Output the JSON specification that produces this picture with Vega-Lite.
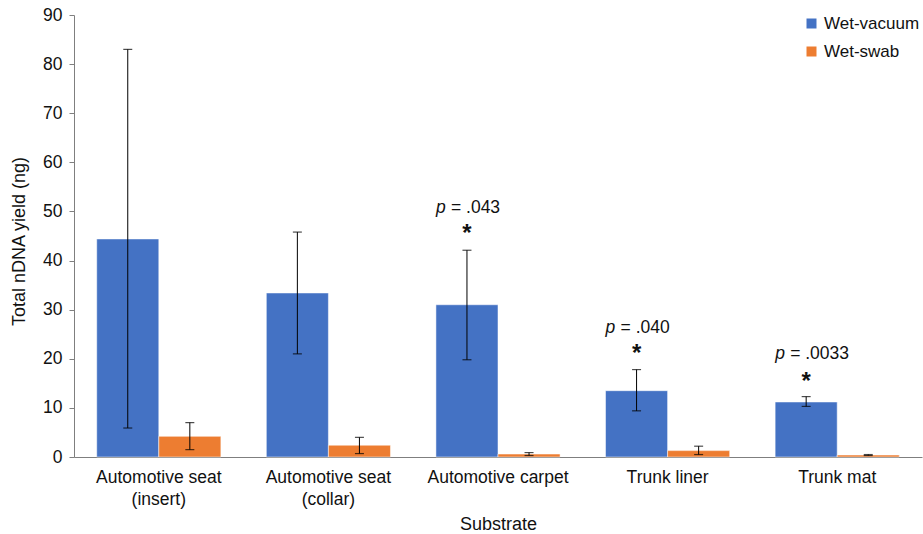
{
  "$schema": "https://vega.github.io/schema/vega-lite/v6.json",
  "width": 848,
  "height": 442,
  "autosize": {"type": "none"},
  "padding": {"left": 74, "top": 15, "right": 1, "bottom": 77},
  "background": "white",
  "config": {
    "view": {"stroke": null},
    "font": "Liberation Sans",
    "axis": {"labelFont": "Liberation Sans", "titleFont": "Liberation Sans", "labelColor": "#111", "titleColor": "#111", "titleFontWeight": "normal", "domainColor": "#7f7f7f", "tickColor": "#7f7f7f", "grid": false}
  },
  "datasets": {
    "bars": [
      {"substrate": "Automotive seat|(insert)", "method": "Wet-vacuum", "mean": 44.4, "lo": 5.9, "hi": 83.0},
      {"substrate": "Automotive seat|(insert)", "method": "Wet-swab", "mean": 4.2, "lo": 1.5, "hi": 7.0},
      {"substrate": "Automotive seat|(collar)", "method": "Wet-vacuum", "mean": 33.4, "lo": 21.0, "hi": 45.8},
      {"substrate": "Automotive seat|(collar)", "method": "Wet-swab", "mean": 2.4, "lo": 0.7, "hi": 4.0},
      {"substrate": "Automotive carpet", "method": "Wet-vacuum", "mean": 31.0, "lo": 19.8, "hi": 42.1},
      {"substrate": "Automotive carpet", "method": "Wet-swab", "mean": 0.6, "lo": 0.3, "hi": 0.9},
      {"substrate": "Trunk liner", "method": "Wet-vacuum", "mean": 13.5, "lo": 9.4, "hi": 17.8},
      {"substrate": "Trunk liner", "method": "Wet-swab", "mean": 1.3, "lo": 0.5, "hi": 2.2},
      {"substrate": "Trunk mat", "method": "Wet-vacuum", "mean": 11.2, "lo": 10.3, "hi": 12.3},
      {"substrate": "Trunk mat", "method": "Wet-swab", "mean": 0.4, "lo": 0.3, "hi": 0.5}
    ],
    "notes": [
      {"substrate": "Automotive carpet", "method": "Wet-vacuum", "p": "p", "rest": "= .043", "py": 50.6, "stary": 46.6},
      {"substrate": "Trunk liner", "method": "Wet-vacuum", "p": "p", "rest": "= .040", "py": 26.2, "stary": 22.2},
      {"substrate": "Trunk mat", "method": "Wet-vacuum", "p": "p", "rest": "= .0033", "py": 20.9, "stary": 16.5}
    ]
  },
  "encoding": {
    "x": {
      "field": "substrate", "type": "nominal",
      "sort": ["Automotive seat|(insert)", "Automotive seat|(collar)", "Automotive carpet", "Trunk liner", "Trunk mat"],
      "scale": {"paddingInner": 0.268, "paddingOuter": 0.134},
      "axis": {"title": "Substrate", "labelAngle": 0, "labelFontSize": 17.5, "titleFontSize": 18, "ticks": false, "labelPadding": 11, "labelExpr": "split(datum.label, '|')", "labelLineHeight": 22, "titlePadding": 8, "labelBaseline": "top"}
    },
    "xOffset": {"field": "method", "type": "nominal", "sort": ["Wet-vacuum", "Wet-swab"], "scale": {"domain": ["Wet-vacuum", "Wet-swab"], "paddingInner": 0, "paddingOuter": 0}}
  },
  "layer": [
    {
      "data": {"name": "bars"},
      "mark": {"type": "bar", "stroke": "#ffffff", "strokeOpacity": 0.5, "strokeWidth": 1},
      "encoding": {
        "y": {"field": "mean", "type": "quantitative",
          "scale": {"domain": [0, 90], "nice": false},
          "axis": {"title": "Total nDNA yield (ng)", "values": [0,5,10,15,20,25,30,35,40,45,50,55,60,65,70,75,80,85,90], "labelExpr": "datum.value % 10 === 0 ? datum.label : ''", "labelFontSize": 17.5, "titleFontSize": 18, "tickSize": 5, "labelPadding": 7, "titlePadding": 14, "titleY": 226}},
        "color": {"field": "method", "type": "nominal", "sort": ["Wet-vacuum", "Wet-swab"],
          "scale": {"domain": ["Wet-vacuum", "Wet-swab"], "range": ["#4472C4", "#ED7D31"]},
          "legend": {"title": null, "orient": "none", "legendX": 729, "legendY": 0, "symbolType": "square", "symbolSize": 100, "symbolStrokeWidth": 0, "labelFontSize": 17, "labelColor": "#111", "rowPadding": 10, "labelOffset": 4}}
      }
    },
    {
      "data": {"name": "bars"},
      "mark": {"type": "rule", "color": "black", "strokeWidth": 1},
      "encoding": {"y": {"field": "lo", "type": "quantitative"}, "y2": {"field": "hi"}}
    },
    {
      "data": {"name": "bars"},
      "mark": {"type": "tick", "color": "black", "size": 9, "thickness": 1.2},
      "encoding": {"y": {"field": "lo", "type": "quantitative"}}
    },
    {
      "data": {"name": "bars"},
      "mark": {"type": "tick", "color": "black", "size": 9, "thickness": 1.2},
      "encoding": {"y": {"field": "hi", "type": "quantitative"}}
    },
    {
      "data": {"name": "notes"},
      "mark": {"type": "text", "fontSize": 24, "fontWeight": "bold", "color": "#111", "baseline": "middle", "dy": 6},
      "encoding": {"y": {"field": "stary", "type": "quantitative"}, "text": {"value": "*"}}
    },
    {
      "data": {"name": "notes"},
      "mark": {"type": "text", "fontSize": 17.5, "fontStyle": "italic", "color": "#111", "align": "left", "baseline": "middle", "dx": -31},
      "encoding": {"y": {"field": "py", "type": "quantitative"}, "text": {"field": "p"}}
    },
    {
      "data": {"name": "notes"},
      "mark": {"type": "text", "fontSize": 17.5, "color": "#111", "align": "left", "baseline": "middle", "dx": -16},
      "encoding": {"y": {"field": "py", "type": "quantitative"}, "text": {"field": "rest"}}
    }
  ]
}
